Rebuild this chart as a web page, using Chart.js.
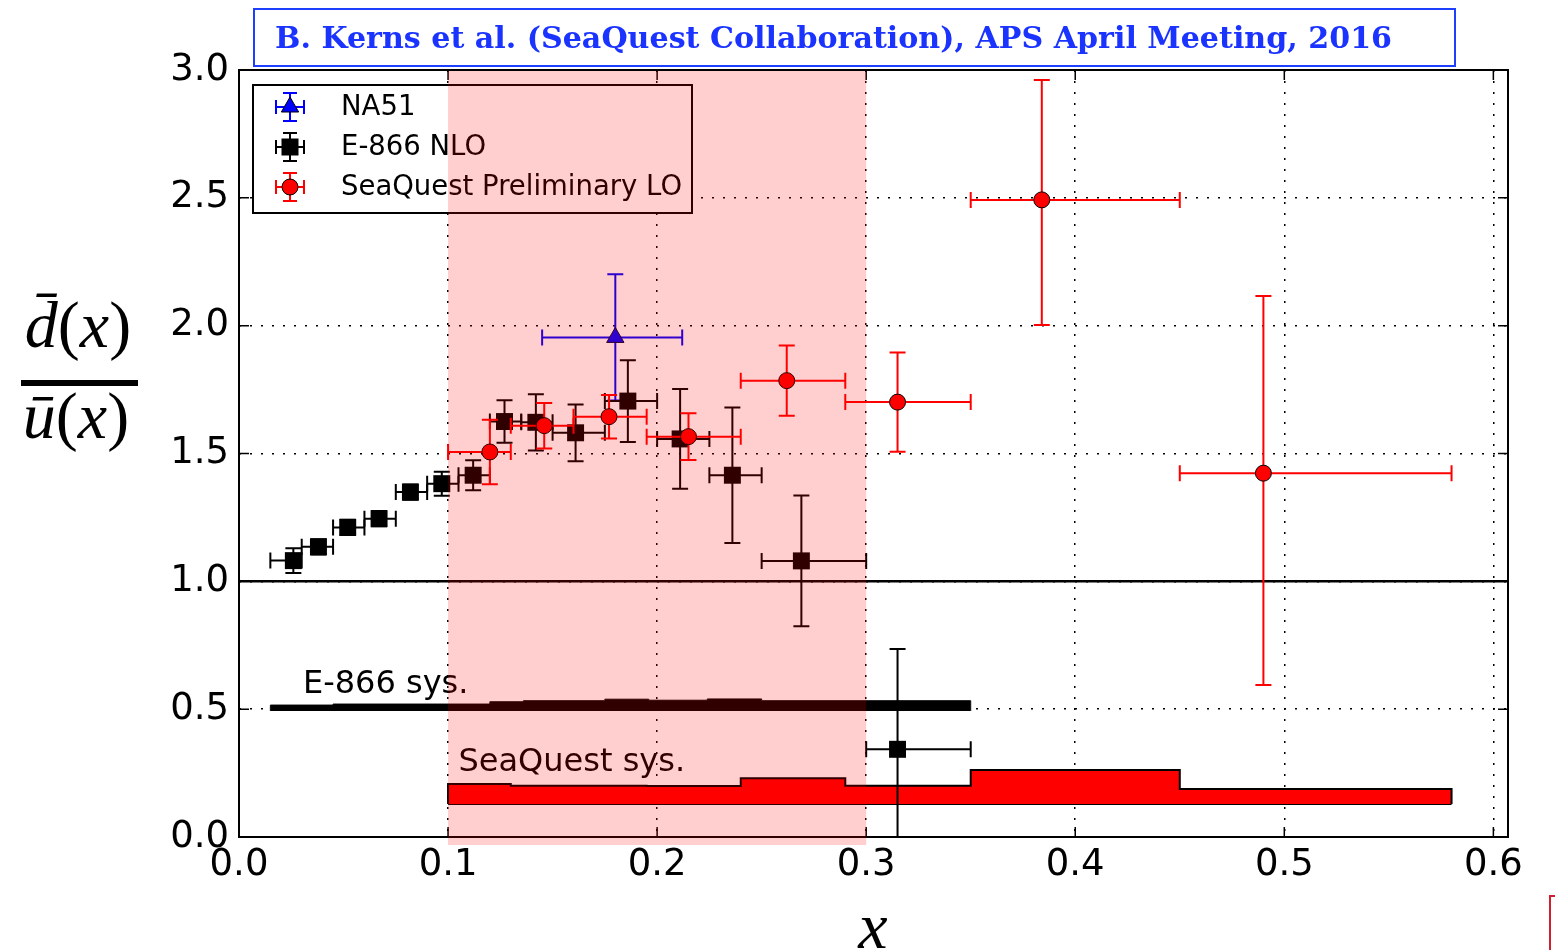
<!DOCTYPE html>
<html><head><meta charset="utf-8">
<script src="https://cdn.jsdelivr.net/npm/chart.js@4.4.0/dist/chart.umd.min.js"></script>
<style>
html,body{margin:0;padding:0;background:#fff;}
#wrap{position:relative;width:1555px;height:950px;overflow:hidden;background:#fff;}
#c{position:absolute;left:0;top:0;}
#title{position:absolute;left:253px;top:8px;width:1199px;height:55px;border:2px solid #1f3fff;
  font-family:"DejaVu Serif",serif;font-weight:bold;color:#1a33ff;line-height:55px;white-space:nowrap;}
#title span{position:absolute;left:20px;top:0;}
.ml{position:absolute;font-family:"Liberation Serif",serif;color:#000;font-size:66px;line-height:66px;white-space:nowrap;text-align:center;}
#num{left:10px;top:292px;width:136px;}
#den{left:8px;top:383px;width:136px;}
#fbar{position:absolute;left:21px;top:380px;width:117px;height:6px;background:#000;}
#xlab{position:absolute;left:838px;top:886px;width:70px;text-align:center;font-family:"Liberation Serif",serif;font-style:italic;font-size:66px;line-height:80px;color:#000;}
#frag{position:absolute;left:1549px;top:895px;width:12px;height:60px;border-left:2px solid #d0202f;border-top:2px solid #d0202f;}
</style>
</head><body>
<div id="wrap">
  <canvas id="c" width="1555" height="950"></canvas>
  <div id="title"><span>B. Kerns et al. (SeaQuest Collaboration), APS April Meeting, 2016</span></div>
  <div id="num" class="ml"><i>d̄</i>(<i>x</i>)</div>
  <div id="fbar"></div>
  <div id="den" class="ml"><i>ū</i>(<i>x</i>)</div>
  <div id="xlab">x</div>
  <div id="frag"></div>
</div>
<script>
// ---------- data ----------
const xTicks = [0.0, 0.1, 0.2, 0.3, 0.4, 0.5, 0.6];
const yTicks = [0.0, 0.5, 1.0, 1.5, 2.0, 2.5, 3.0];

// NA51
const na51X    = [0.180];
const na51Y    = [1.954];
const na51XLo  = [0.145];
const na51XHi  = [0.212];
const na51YErr = [0.247];

// E-866 NLO (bin edges for the horizontal bars)
const e866X    = [0.026, 0.038, 0.052, 0.067, 0.082, 0.097, 0.112, 0.127, 0.142, 0.161, 0.186, 0.211, 0.236, 0.269, 0.315];
const e866Y    = [1.081, 1.135, 1.211, 1.245, 1.349, 1.382, 1.415, 1.625, 1.622, 1.581, 1.705, 1.557, 1.415, 1.080, 0.343];
const e866XLo  = [0.015, 0.030, 0.045, 0.060, 0.075, 0.090, 0.105, 0.120, 0.135, 0.150, 0.175, 0.200, 0.225, 0.250, 0.300];
const e866XHi  = [0.030, 0.045, 0.060, 0.075, 0.090, 0.105, 0.120, 0.135, 0.150, 0.175, 0.200, 0.225, 0.250, 0.300, 0.350];
const e866YErr = [0.048, 0.030, 0.030, 0.030, 0.030, 0.047, 0.059, 0.083, 0.110, 0.111, 0.160, 0.195, 0.265, 0.256, 0.392];

// SeaQuest Preliminary LO
const sqX      = [0.120, 0.146, 0.177, 0.215, 0.262, 0.315, 0.384, 0.490];
const sqY      = [1.506, 1.609, 1.644, 1.566, 1.785, 1.701, 2.492, 1.423];
const sqXLo    = [0.100, 0.130, 0.160, 0.195, 0.240, 0.290, 0.350, 0.450];
const sqXHi    = [0.130, 0.160, 0.195, 0.240, 0.290, 0.350, 0.450, 0.580];
const sqYErrLo = [0.126, 0.089, 0.085, 0.091, 0.137, 0.194, 0.489, 0.828];
const sqYErrHi = [0.126, 0.089, 0.085, 0.091, 0.137, 0.194, 0.469, 0.693];

// systematic bands
const e866SysEdges = [0.015, 0.045, 0.120, 0.136, 0.175, 0.196, 0.224, 0.250, 0.350];
const e866SysTop   = [0.516, 0.520, 0.529, 0.533, 0.539, 0.535, 0.540, 0.533];
const e866SysBase  = 0.493;
const sqSysEdges = [0.100, 0.130, 0.160, 0.195, 0.240, 0.290, 0.350, 0.450, 0.580];
const sqSysTop   = [0.207, 0.200, 0.200, 0.199, 0.230, 0.200, 0.262, 0.188];
const sqSysBase  = 0.129;

const unityLine = [0.0, 0.607];
const sharedRange = [0.1, 0.3];

// ---------- helpers ----------
// outline points: value of each bin starts at its left edge (held until next point)
function stepBand(edges, tops, base){
  const pts = [{x:edges[0], y:base}];
  for(let i=0;i<tops.length;i++) pts.push({x:edges[i], y:tops[i]});
  pts.push({x:edges[edges.length-1], y:tops[tops.length-1]});
  pts.push({x:edges[edges.length-1], y:base});
  return pts;
}
const pts = (xs, ys) => xs.map((v,i)=>({x:v, y:ys[i]}));

const na51Err = na51X.map((v,i)=>({x:v,y:na51Y[i],xl:na51XLo[i],xh:na51XHi[i],yl:na51Y[i]-na51YErr[i],yh:na51Y[i]+na51YErr[i]}));
const e866Err = e866X.map((v,i)=>({x:v,y:e866Y[i],xl:e866XLo[i],xh:e866XHi[i],yl:e866Y[i]-e866YErr[i],yh:e866Y[i]+e866YErr[i]}));
const sqErr   = sqX.map((v,i)=>({x:v,y:sqY[i],xl:sqXLo[i],xh:sqXHi[i],yl:sqY[i]-sqYErrLo[i],yh:sqY[i]+sqYErrHi[i]}));

// fit title text width
(function(){
  const cv=document.createElement('canvas').getContext('2d');
  cv.font='bold 26px "DejaVu Serif"';
  const w=cv.measureText(document.querySelector('#title span').textContent).width;
  document.getElementById('title').style.fontSize=(26*1117/w).toFixed(2)+'px';
})();

const FONT = '"DejaVu Sans", sans-serif';

const errPlugin = {
  id:'errbars',
  beforeDatasetDraw(chart, args){
    const ds = chart.data.datasets[args.index];
    if(!ds.err) return;
    const {ctx, chartArea:a, scales:{x, y}} = chart;
    ctx.save();
    ctx.beginPath(); ctx.rect(a.left, a.top, a.right-a.left, a.bottom-a.top); ctx.clip();
    ctx.strokeStyle = ds.errColor; ctx.lineWidth = 2; ctx.setLineDash([]);
    const c = 8;
    ds.err.forEach(e=>{
      const px=x.getPixelForValue(e.x), py=y.getPixelForValue(e.y);
      const x1=x.getPixelForValue(e.xl), x2=x.getPixelForValue(e.xh);
      const y1=y.getPixelForValue(e.yl), y2=y.getPixelForValue(e.yh);
      ctx.beginPath();
      ctx.moveTo(x1,py); ctx.lineTo(x2,py);
      ctx.moveTo(px,y1); ctx.lineTo(px,y2);
      ctx.moveTo(x1,py-c); ctx.lineTo(x1,py+c);
      ctx.moveTo(x2,py-c); ctx.lineTo(x2,py+c);
      ctx.moveTo(px-c,y1); ctx.lineTo(px+c,y1);
      ctx.moveTo(px-c,y2); ctx.lineTo(px+c,y2);
      ctx.stroke();
    });
    ctx.restore();
  }
};

function drawMarker(ctx, style, cx, cy, fill, stroke){
  ctx.beginPath();
  if(style==='circle'){ ctx.arc(cx, cy, 8, 0, Math.PI*2); }
  else if(style==='rect'){ ctx.rect(cx-8.5, cy-8.5, 17, 17); }
  else { const r=10; ctx.moveTo(cx, cy-r); ctx.lineTo(cx+r*0.866, cy+r*0.5); ctx.lineTo(cx-r*0.866, cy+r*0.5); ctx.closePath(); }
  ctx.fillStyle = fill; ctx.fill();
  if(stroke){ ctx.lineWidth=1; ctx.strokeStyle=stroke; ctx.stroke(); }
}

const overlayPlugin = {
  id:'overlay',
  afterDatasetsDraw(chart){
    const {ctx, chartArea:a, scales:{x, y}} = chart;
    ctx.save();
    // annotations
    ctx.fillStyle='#000'; ctx.font='32px '+FONT; ctx.textBaseline='middle'; ctx.textAlign='left';
    ctx.fillText('E-866 sys.', x.getPixelForValue(0.0306), y.getPixelForValue(0.595));
    ctx.fillText('SeaQuest sys.', x.getPixelForValue(0.105), y.getPixelForValue(0.29));
    // frame
    ctx.strokeStyle='#000'; ctx.lineWidth=2; ctx.setLineDash([]);
    ctx.strokeRect(a.left, a.top, a.right-a.left, a.bottom-a.top);
    // inward ticks
    ctx.lineWidth=1.5;
    ctx.beginPath();
    xTicks.forEach(v=>{ const p=x.getPixelForValue(v); ctx.moveTo(p,a.bottom); ctx.lineTo(p,a.bottom-10); ctx.moveTo(p,a.top); ctx.lineTo(p,a.top+10); });
    yTicks.forEach(v=>{ const p=y.getPixelForValue(v); ctx.moveTo(a.left,p); ctx.lineTo(a.left+10,p); ctx.moveTo(a.right,p); ctx.lineTo(a.right-10,p); });
    ctx.stroke();
    // legend
    const lx=a.left+14, ly=a.top+15, lw=439, lh=128;
    ctx.fillStyle='#fff'; ctx.fillRect(lx,ly,lw,lh);
    ctx.strokeStyle='#000'; ctx.lineWidth=2; ctx.strokeRect(lx,ly,lw,lh);
    const entries = [chart.data.datasets[2], chart.data.datasets[1], chart.data.datasets[0]];
    entries.forEach((ds,i)=>{
      const cy = ly + 22 + i*40, cx = lx + 37;
      ctx.strokeStyle = ds.errColor; ctx.lineWidth=2;
      ctx.beginPath();
      ctx.moveTo(cx-14,cy); ctx.lineTo(cx+14,cy);
      ctx.moveTo(cx,cy-14); ctx.lineTo(cx,cy+14);
      ctx.moveTo(cx-14,cy-7); ctx.lineTo(cx-14,cy+7);
      ctx.moveTo(cx+14,cy-7); ctx.lineTo(cx+14,cy+7);
      ctx.moveTo(cx-7,cy-14); ctx.lineTo(cx+7,cy-14);
      ctx.moveTo(cx-7,cy+14); ctx.lineTo(cx+7,cy+14);
      ctx.stroke();
      drawMarker(ctx, ds.pointStyle, cx, cy, ds.backgroundColor, ds.pointStyle==='rect'?null:'#000');
      ctx.fillStyle='#000'; ctx.font='27.5px '+FONT; ctx.textBaseline='middle';
      ctx.fillText(ds.label, lx+88, cy+1);
    });
    // shared band
    const b1=x.getPixelForValue(sharedRange[0]), b2=x.getPixelForValue(sharedRange[1]);
    ctx.fillStyle='rgba(255,0,0,0.19)';
    ctx.fillRect(b1, a.top+1, b2-b1, a.bottom-a.top+7);
    ctx.restore();
  }
};

const isEdge = v => v===0 || v===3;

new Chart(document.getElementById('c'), {
  type:'scatter',
  data:{ datasets:[
    { label:'SeaQuest Preliminary LO', data:pts(sqX,sqY), err:sqErr, errColor:'#ff0000',
      pointStyle:'circle', pointRadius:8, backgroundColor:'#ff0000', borderColor:'#000', borderWidth:1, order:1 },
    { label:'E-866 NLO', data:pts(e866X,e866Y), err:e866Err, errColor:'#000000',
      pointStyle:'rect', pointRadius:12, backgroundColor:'#000000', borderColor:'#000', borderWidth:0, order:2 },
    { label:'NA51', data:pts(na51X,na51Y), err:na51Err, errColor:'#0000ff',
      pointStyle:'triangle', pointRadius:10, backgroundColor:'#0000ff', borderColor:'#000033', borderWidth:1, order:3 },
    { label:'unity', data:unityLine.map(v=>({x:v,y:1})), showLine:true, pointRadius:0, borderColor:'#000', borderWidth:2.5, order:4 },
    { label:'E-866 sys.', data:stepBand(e866SysEdges,e866SysTop,e866SysBase), showLine:true, stepped:'before', pointRadius:0,
      borderColor:'#000', borderWidth:1, backgroundColor:'#000', fill:{value:e866SysBase}, order:5 },
    { label:'SeaQuest sys.', data:stepBand(sqSysEdges,sqSysTop,sqSysBase), showLine:true, stepped:'before', pointRadius:0,
      borderColor:'#000', borderWidth:2, backgroundColor:'#ff0000', fill:{value:sqSysBase}, order:6 },
    { label:'SeaQuest sys. base', data:[{x:sqSysEdges[0],y:sqSysBase},{x:sqSysEdges[sqSysEdges.length-1],y:sqSysBase}], showLine:true,
      pointRadius:0, borderColor:'#000', borderWidth:2, order:6 }
  ]},
  options:{
    responsive:false, animation:false, events:[],
    layout:{ padding:{ top:70, right:47, left:0, bottom:0 } },
    plugins:{ legend:{display:false}, tooltip:{enabled:false}, title:{display:false} },
    scales:{
      x:{ type:'linear', min:0, max:0.607,
        afterBuildTicks:s=>{ s.ticks = xTicks.map(v=>({value:v})); },
        afterFit:s=>{ s.height = 113; },
        ticks:{ callback:v=>v.toFixed(1), font:{family:FONT, size:37}, color:'#000', padding:6, maxRotation:0, autoSkip:false },
        grid:{ drawTicks:false, lineWidth:1.5, color:c=>(c.tick && c.tick.value===0)?'rgba(0,0,0,0)':'#000' },
        border:{ display:false, dash:[2,9] }
      },
      y:{ type:'linear', min:0, max:3,
        afterBuildTicks:s=>{ s.ticks = yTicks.map(v=>({value:v})); },
        afterFit:s=>{ s.width = 239; },
        ticks:{ callback:v=>v.toFixed(1), font:{family:FONT, size:37}, color:'#000', padding:10, autoSkip:false },
        grid:{ drawTicks:false, lineWidth:1.5, color:c=>(c.tick && isEdge(c.tick.value))?'rgba(0,0,0,0)':'#000' },
        border:{ display:false, dash:[2,9] }
      }
    }
  },
  plugins:[errPlugin, overlayPlugin]
});
</script>
</body></html>
